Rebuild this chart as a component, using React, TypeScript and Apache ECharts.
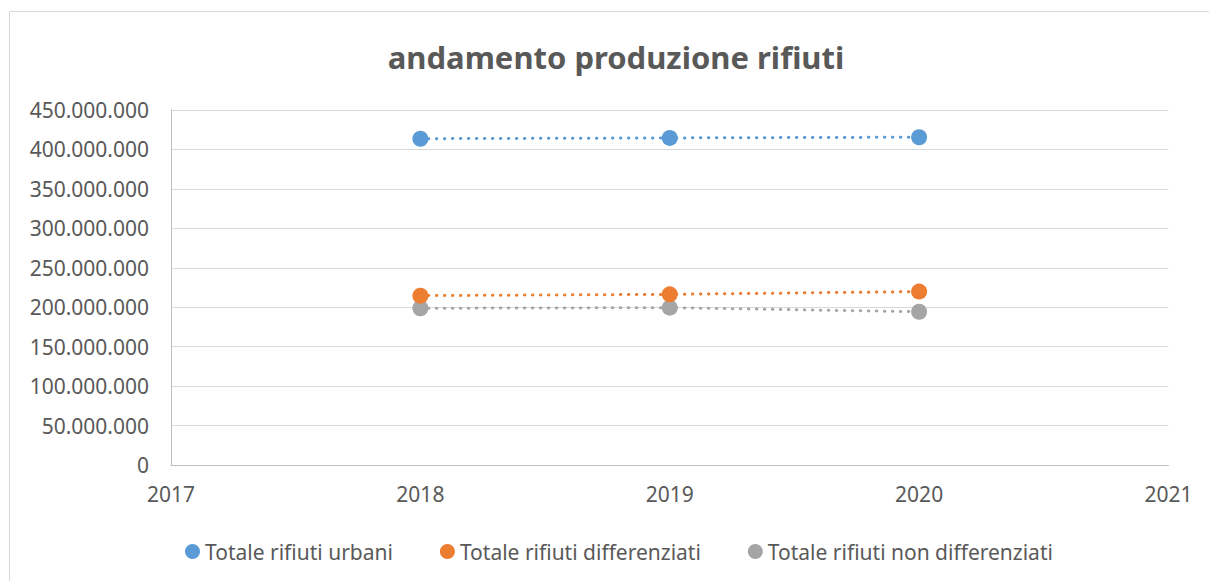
import React, { useEffect, useRef } from "react";
import * as echarts from "echarts";

const years = [2018, 2019, 2020];
const urbani = [413600000, 414600000, 415500000];
const differenziati = [214700000, 216300000, 219800000];
const nonDifferenziati = [198700000, 199400000, 194300000];
const seriesNames = [
  "Totale rifiuti urbani",
  "Totale rifiuti differenziati",
  "Totale rifiuti non differenziati",
];
const colors = ["#5B9BD5", "#ED7D31", "#A5A5A5"];
const titleText = "andamento produzione rifiuti";

const FONT = "'Noto Sans', 'Open Sans', sans-serif";

function fmtIt(v: number): string {
  return String(Math.round(v)).replace(/\B(?=(\d{3})+(?!\d))/g, ".");
}

export default function App() {
  const ref = useRef<HTMLDivElement>(null);
  useEffect(() => {
    if (!ref.current) return;
    const chart = echarts.init(ref.current, undefined, { renderer: "svg" });
    const all = [urbani, differenziati, nonDifferenziati];
    chart.setOption({
      animation: false,
      backgroundColor: "#ffffff",
      title: {
        text: titleText,
        left: 611,
        textAlign: "center",
        top: 36,
        textStyle: {
          fontFamily: FONT,
          fontSize: 31,
          fontWeight: "bold",
          color: "#595959",
        },
      },
      graphic: [
        {
          type: "rect",
          shape: { x: 9.5, y: 11.5, width: 1215, height: 600 },
          style: { fill: "none", stroke: "#D9D9D9", lineWidth: 1 },
          silent: true,
        },
      ],
      legend: {
        data: seriesNames.map((n) => ({ name: n, icon: "circle" })),
        left: 180,
        top: 536,
        itemWidth: 15,
        itemHeight: 15,
        itemGap: 47,
        textStyle: { fontFamily: FONT, fontSize: 21, color: "#595959" },
      },
      grid: { left: 171, top: 110, right: 40.5, bottom: 116, containLabel: false },
      xAxis: {
        type: "value",
        min: 2017,
        max: 2021,
        interval: 1,
        axisLine: { show: true, lineStyle: { color: "#BFBFBF", width: 1 } },
        axisTick: { show: false },
        splitLine: { show: false },
        axisLabel: {
          formatter: (v: number) => String(v),
          fontFamily: FONT,
          fontSize: 21,
          color: "#595959",
          margin: 18,
        },
      },
      yAxis: {
        type: "value",
        min: 0,
        max: 450000000,
        interval: 50000000,
        axisLine: { show: true, lineStyle: { color: "#BFBFBF", width: 1 } },
        axisTick: { show: false },
        splitLine: { show: true, lineStyle: { color: "#D9D9D9", width: 1 } },
        axisLabel: {
          formatter: (v: number) => fmtIt(v),
          fontFamily: FONT,
          fontSize: 21,
          color: "#595959",
          margin: 22,
        },
      },
      series: seriesNames.map((name, i) => ({
        name,
        type: "line",
        data: years.map((y, j) => [y, all[i][j]]),
        symbol: "circle",
        symbolSize: 16,
        itemStyle: { color: colors[i] },
        lineStyle: {
          color: colors[i],
          width: 3,
          type: [0.5, 7.5],
          cap: "round",
        },
        z: 3 - i,
      })),
    });
    return () => chart.dispose();
  }, []);
  return (
    <div
      ref={ref}
      style={{ position: "fixed", left: 0, top: 0, width: 1209, height: 581 }}
    />
  );
}
